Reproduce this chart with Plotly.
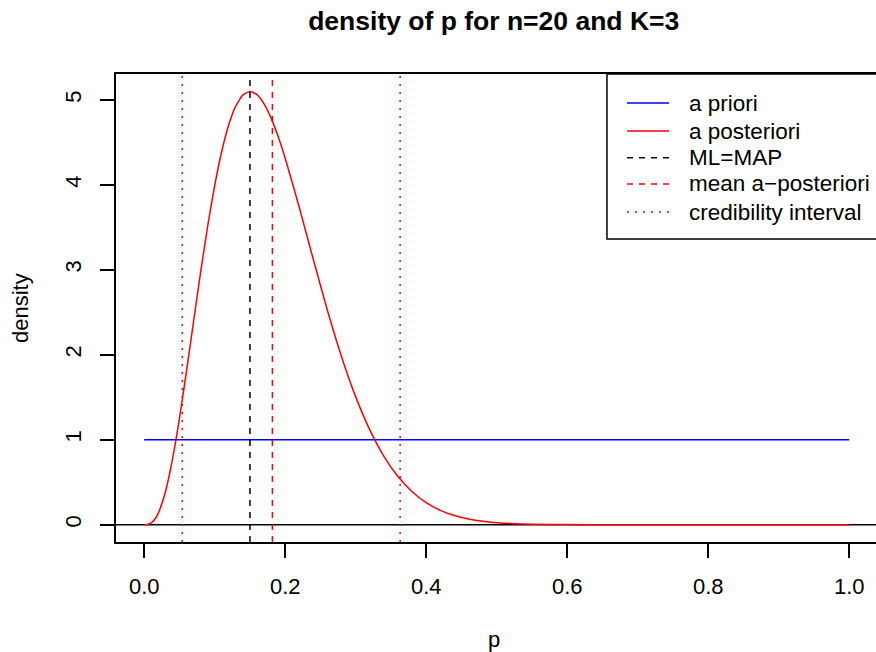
import plotly.graph_objects as go

# posterior density of p
p_post = [0.0, 0.005, 0.01, 0.015, 0.02, 0.03, 0.04, 0.05, 0.06, 0.07, 0.08, 0.09, 0.10, 0.11,
          0.12, 0.13, 0.14, 0.15, 0.16, 0.17, 0.18, 0.19, 0.20, 0.22, 0.24, 0.26, 0.28, 0.30,
          0.32, 0.34, 0.36, 0.38, 0.40, 0.42, 0.44, 0.46, 0.48, 0.50, 0.52, 0.55, 0.60, 0.65,
          0.70, 0.80, 0.90, 1.0]
dens_post = [0.0, 0.003, 0.020, 0.063, 0.136, 0.385, 0.766, 1.251, 1.806, 2.391, 2.970, 3.512,
             3.992, 4.395, 4.710, 4.929, 5.058, 5.099, 5.061, 4.953, 4.785, 4.567, 4.313, 3.732,
             3.117, 2.518, 1.974, 1.504, 1.115, 0.805, 0.566, 0.388, 0.259, 0.169, 0.107, 0.066,
             0.039, 0.023, 0.013, 0.005, 0.001, 0.0001, 0.0, 0.0, 0.0, 0.0]

# flat prior
p_prior = [0.0, 1.0]
dens_prior = [1.0, 1.0]

ml_map = 0.15
post_mean = 0.1818
cred_int = [0.054, 0.363]

legend_labels = ["a priori", "a posteriori", "ML=MAP", "mean a\u2212posteriori", "credibility interval"]
legend_colors = ["blue", "red", "black", "red", "red"]
legend_dash = ["solid", "solid", "6px,6px", "6px,6px", "2px,6px"]

FONT = "Liberation Sans, Arial, sans-serif"

fig = go.Figure()

fig.add_trace(go.Scatter(x=p_prior, y=dens_prior, mode="lines",
                         line=dict(color="blue", width=1.5), showlegend=False))
fig.add_trace(go.Scatter(x=p_post, y=dens_post, mode="lines",
                         line=dict(color="red", width=1.5, shape="spline", smoothing=0.5),
                         showlegend=False))

# abline(h=0) and the vertical markers
fig.add_hline(y=0, line=dict(color="black", width=1.5), layer="below")
fig.add_vline(x=ml_map, line=dict(color="black", width=1.5, dash="6px,6px"))
fig.add_vline(x=post_mean, line=dict(color="red", width=1.5, dash="6px,6px"))
for c in cred_int:
    fig.add_vline(x=c, line=dict(color="red", width=1.5, dash="2px,6px"))

# legend box, drawn by hand like R's legend("topright")
fig.add_shape(type="rect", xref="paper", yref="paper", x0=0.646, x1=1.02, y0=0.6474, y1=1.0,
              line=dict(color="black", width=1.5), fillcolor="white", layer="above")
row_y = [0.938, 0.878, 0.821, 0.765, 0.705]
for lab, col, dsh, yy in zip(legend_labels, legend_colors, legend_dash, row_y):
    fig.add_shape(type="line", xref="paper", yref="paper", x0=0.6724, x1=0.7276, y0=yy, y1=yy,
                  line=dict(color=col, width=1.5, dash=dsh), layer="above")
    fig.add_annotation(xref="paper", yref="paper", x=0.7513, y=yy, text=lab, showarrow=False,
                       xanchor="left", yanchor="middle", font=dict(size=22.5, color="black"))

# axis titles
fig.add_annotation(xref="paper", yref="paper", x=0.497, y=0, yshift=-97, text="p",
                   showarrow=False, yanchor="middle", font=dict(size=22, color="black"))
fig.add_annotation(xref="paper", yref="paper", x=0, y=0.5, xshift=-96, text="density",
                   textangle=-90, showarrow=False, xanchor="center", font=dict(size=22, color="black"))

fig.update_layout(
    width=876, height=652,
    margin=dict(l=116, r=0, t=74, b=110),
    paper_bgcolor="white", plot_bgcolor="white",
    font=dict(family=FONT, size=22, color="black"),
    title=dict(text="<b>density of p for n=20 and K=3</b>", x=0.497, xref="paper",
               y=0.968, yanchor="middle", font=dict(size=26.5)),
    showlegend=False,
)
fig.update_xaxes(range=[-0.04, 1.038], tickvals=[0, 0.2, 0.4, 0.6, 0.8, 1.0],
                 ticktext=["0.0", "0.2", "0.4", "0.6", "0.8", "1.0"],
                 showgrid=False, zeroline=False, showline=True, mirror=True,
                 linecolor="black", linewidth=1.5, ticks="outside", ticklen=14,
                 tickwidth=1.5, tickcolor="black", ticklabelstandoff=10)
fig.update_yaxes(range=[-0.204, 5.304], tickvals=[0, 1, 2, 3, 4, 5],
                 showgrid=False, zeroline=False, showline=True, mirror=False,
                 linecolor="black", linewidth=1.5, ticks="outside", ticklen=14,
                 tickwidth=1.5, tickcolor="black", tickangle=-90, ticklabelstandoff=10)

# page body has a default margin; drop it so the figure sits at the window's corner
fig.write_html("out.html", config={"displayModeBar": False},
               post_script="document.body.style.margin='0';document.body.style.overflow='hidden';")
